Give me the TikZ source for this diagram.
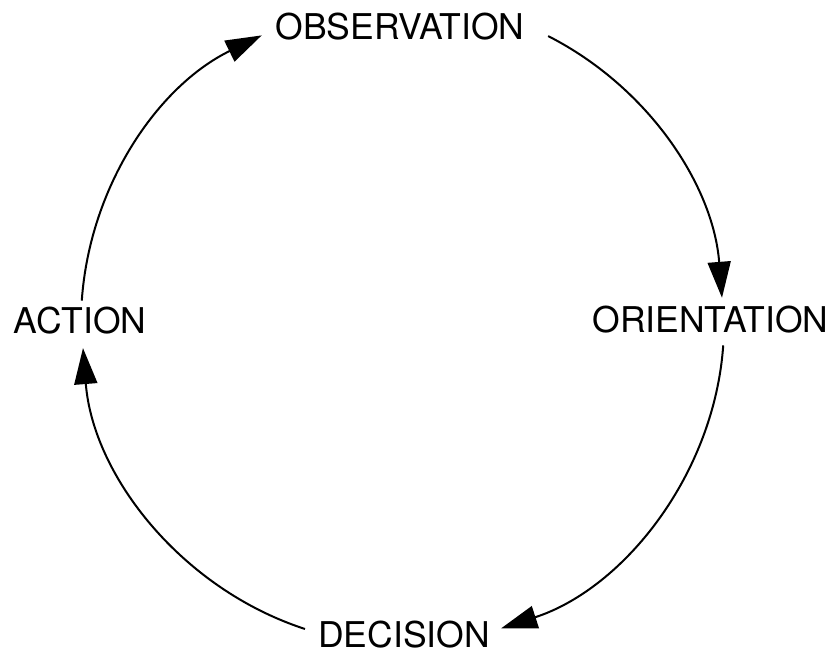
\documentclass[tikz,border=0pt]{standalone}
\usepackage{fontspec}
\setmainfont{TeX Gyre Heros}
\usetikzlibrary{arrows.meta, positioning}

\begin{document}
\begin{tikzpicture}[x=1pt, y=1pt, font=\fontsize{35.5}{40}\selectfont,
    stage/.style={inner sep=0pt},
    cyc/.style={-{Triangle[length=36pt, width=23pt]}, line width=2pt, looseness=0.92}]
  \useasboundingbox (-402,-329) rectangle (434,323);
  \node[stage] (obs) at (-2,296.5) {OBSERVATION};
  \node[stage] (ori) at (308.5,3) {ORIENTATION};
  \node[stage] (dec) at (2,-312) {DECISION};
  \node[stage] (act) at (-322,2) {ACTION};
  \coordinate (act-out) at (176:321);
  \coordinate (obs-in)  at (116:320);
  \coordinate (obs-out) at (63:322);
  \coordinate (ori-in)  at (4.5:321);
  \coordinate (ori-out) at (-4:322);
  \coordinate (dec-in)  at (-72:321);
  \coordinate (dec-out) at (252.4:321);
  \coordinate (act-in)  at (184.5:320);
  \draw[cyc] (act-out) to[out=86, in=206] (obs-in);
  \draw[cyc] (obs-out) to[out=-27, in=94.5] (ori-in);
  \draw[cyc] (ori-out) to[out=-94, in=18] (dec-in);
  \draw[cyc] (dec-out) to[out=162, in=-85.5] (act-in);
\end{tikzpicture}
\end{document}
